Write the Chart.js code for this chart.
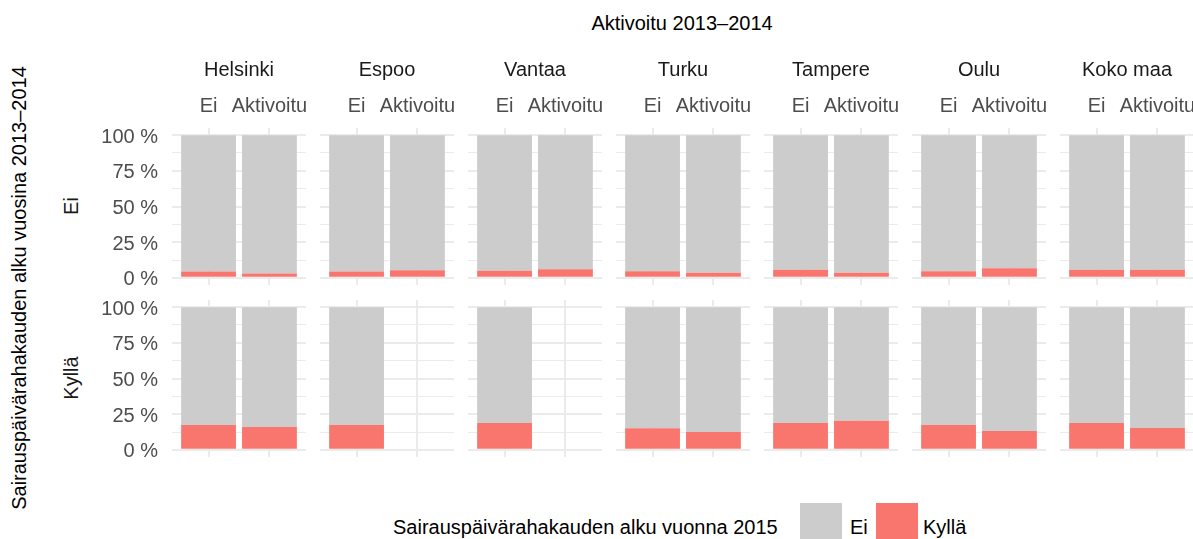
<!DOCTYPE html>
<html>
<head>
<meta charset="utf-8">
<script src="https://cdn.jsdelivr.net/npm/chart.js@4/dist/chart.umd.min.js"></script>
<style>
  html, body { margin: 0; padding: 0; background: #fff; overflow: hidden; }
  body { width: 1193px; height: 539px; position: relative; font-family: "Liberation Sans", Arial, sans-serif; }
  .txt { position: absolute; white-space: nowrap; font-size: 20px; line-height: 20px; }
  .panel { position: absolute; }
  .key { position: absolute; width: 42px; height: 42px; }
</style>
</head>
<body>
<div class="txt" id="mainTitle" style="left:682px; top:23px; transform:translate(-50%,-50%); color:#000;"></div>
<div class="txt" id="yTitle" style="left:19px; top:288px; transform:translate(-50%,-50%) rotate(-90deg); color:#000;"></div>
<div class="txt" id="row0" style="left:71px; top:206px; transform:translate(-50%,-50%) rotate(-90deg); color:#1A1A1A;"></div>
<div class="txt" id="row1" style="left:71px; top:378px; transform:translate(-50%,-50%) rotate(-90deg); color:#1A1A1A;"></div>

<div class="txt" id="legTitle" style="left:393px; top:517px; color:#000;"></div>
<div class="key" style="left:800px; top:503px; background:#CCCCCC;"></div>
<div class="txt" id="leg0" style="left:850px; top:517px; color:#000;"></div>
<div class="key" style="left:876px; top:503px; background:#F8766D;"></div>
<div class="txt" id="leg1" style="left:923px; top:517px; color:#000;"></div>

<script>
const cities = ["Helsinki", "Espoo", "Vantaa", "Turku", "Tampere", "Oulu", "Koko maa"];
const groups = ["Ei", "Aktivoitu"];
const rowLabels = ["Ei", "Kyllä"];
const legendLabels = ["Ei", "Kyllä"];
const yTicks = [0, 12.5, 25, 37.5, 50, 62.5, 75, 87.5, 100];

// share (%) per city, [Ei, Aktivoitu]; row "Ei" (no sick leave 2013–2014)
const kyllaTop = [[4.5, 3.1], [4.5, 5.4], [4.9, 6.1], [4.7, 3.5], [5.6, 3.5], [4.7, 6.8], [5.6, 5.6]];
const eiTop    = [[95.5, 96.9], [95.5, 94.6], [95.1, 93.9], [95.3, 96.5], [94.4, 96.5], [95.3, 93.2], [94.4, 94.4]];
// row "Kyllä"
const kyllaBottom = [[17.4, 16.0], [17.4, null], [18.8, null], [15.2, 12.5], [18.8, 20.4], [17.4, 13.2], [18.8, 15.3]];
const eiBottom    = [[82.6, 84.0], [82.6, null], [81.2, null], [84.8, 87.5], [81.2, 79.6], [82.6, 86.8], [81.2, 84.7]];

document.getElementById("mainTitle").textContent = "Aktivoitu 2013–2014";
document.getElementById("yTitle").textContent = "Sairauspäivärahakauden alku vuosina 2013–2014";
document.getElementById("row0").textContent = rowLabels[0];
document.getElementById("row1").textContent = rowLabels[1];
document.getElementById("legTitle").textContent = "Sairauspäivärahakauden alku vuonna 2015";
document.getElementById("leg0").textContent = legendLabels[0];
document.getElementById("leg1").textContent = legendLabels[1];

const RED = "#F8766D", GREY = "#CCCCCC", GRID = "#EBEBEB";
const font = { family: "'Liberation Sans', Arial, sans-serif", size: 20 };
const panelW = 134, yAxisW = 92, xAxisH = 78;
const rowTop = [50, 300];
const panelH = [157, 157];

// scales must not push the plot area around
function noPadding(s) {
  s.paddingTop = 0;
  s.paddingBottom = 0;
  s.paddingLeft = 0;
  s.paddingRight = 0;
}

function makePanel(row, col) {
  const first = col === 0;
  const top = row === 0;
  const kylla = top ? kyllaTop : kyllaBottom;
  const ei = top ? eiTop : eiBottom;

  const w = (first ? yAxisW : 0) + panelW;
  const h = (top ? xAxisH : 0) + panelH[row];
  const canvas = document.createElement("canvas");
  canvas.className = "panel";
  canvas.width = w;
  canvas.height = h;
  canvas.style.left = (172 + 148 * col - (first ? yAxisW : 0)) + "px";
  canvas.style.top = rowTop[row] + "px";
  canvas.style.width = w + "px";
  canvas.style.height = h + "px";
  document.body.appendChild(canvas);

  new Chart(canvas, {
    type: "bar",
    data: {
      datasets: [
        {
          label: legendLabels[1],
          data: groups.map((g, i) => ({ x: i + 1, y: kylla[col][i] })),
          backgroundColor: RED,
          borderWidth: 0,
          barPercentage: 0.9,
          categoryPercentage: 1
        },
        {
          label: legendLabels[0],
          data: groups.map((g, i) => ({ x: i + 1, y: ei[col][i] })),
          backgroundColor: GREY,
          borderWidth: 0,
          barPercentage: 0.9,
          categoryPercentage: 1
        }
      ]
    },
    options: {
      responsive: false,
      animation: false,
      events: [],
      layout: { autoPadding: false, padding: 0 },
      plugins: { legend: { display: false }, tooltip: { enabled: false } },
      scales: {
        x: {
          type: "linear",
          position: "top",
          min: 0.4,
          max: 2.6,
          offset: false,
          stacked: true,
          border: { display: false },
          grid: { offset: false, color: GRID, lineWidth: 2, drawTicks: false },
          ticks: {
            display: top,
            font: font,
            color: "#4D4D4D",
            padding: 10,
            autoSkip: false,
            maxRotation: 0,
            callback: (v) => groups[v - 1]
          },
          title: {
            display: top,
            text: cities[col],
            font: font,
            color: "#1A1A1A",
            padding: { top: 8, bottom: 0 }
          },
          afterBuildTicks: (s) => { s.ticks = groups.map((g, i) => ({ value: i + 1 })); },
          afterFit: (s) => { s.height = top ? xAxisH : 0; noPadding(s); }
        },
        y: {
          type: "linear",
          min: -5,
          max: 105,
          stacked: true,
          border: { display: false },
          grid: {
            color: GRID,
            drawTicks: false,
            lineWidth: (ctx) => (ctx.tick && ctx.tick.value % 25 === 0 ? 2 : 1)
          },
          ticks: {
            display: first,
            font: font,
            color: "#4D4D4D",
            padding: 14,
            labelOffset: 2,
            autoSkip: false,
            callback: (v) => (v % 25 === 0 ? v + " %" : "")
          },
          afterBuildTicks: (s) => { s.ticks = yTicks.map((v) => ({ value: v })); },
          afterFit: (s) => { s.width = first ? yAxisW : 0; noPadding(s); }
        }
      }
    }
  });
}

for (let r = 0; r < 2; r++) {
  for (let c = 0; c < cities.length; c++) makePanel(r, c);
}
</script>
</body>
</html>
